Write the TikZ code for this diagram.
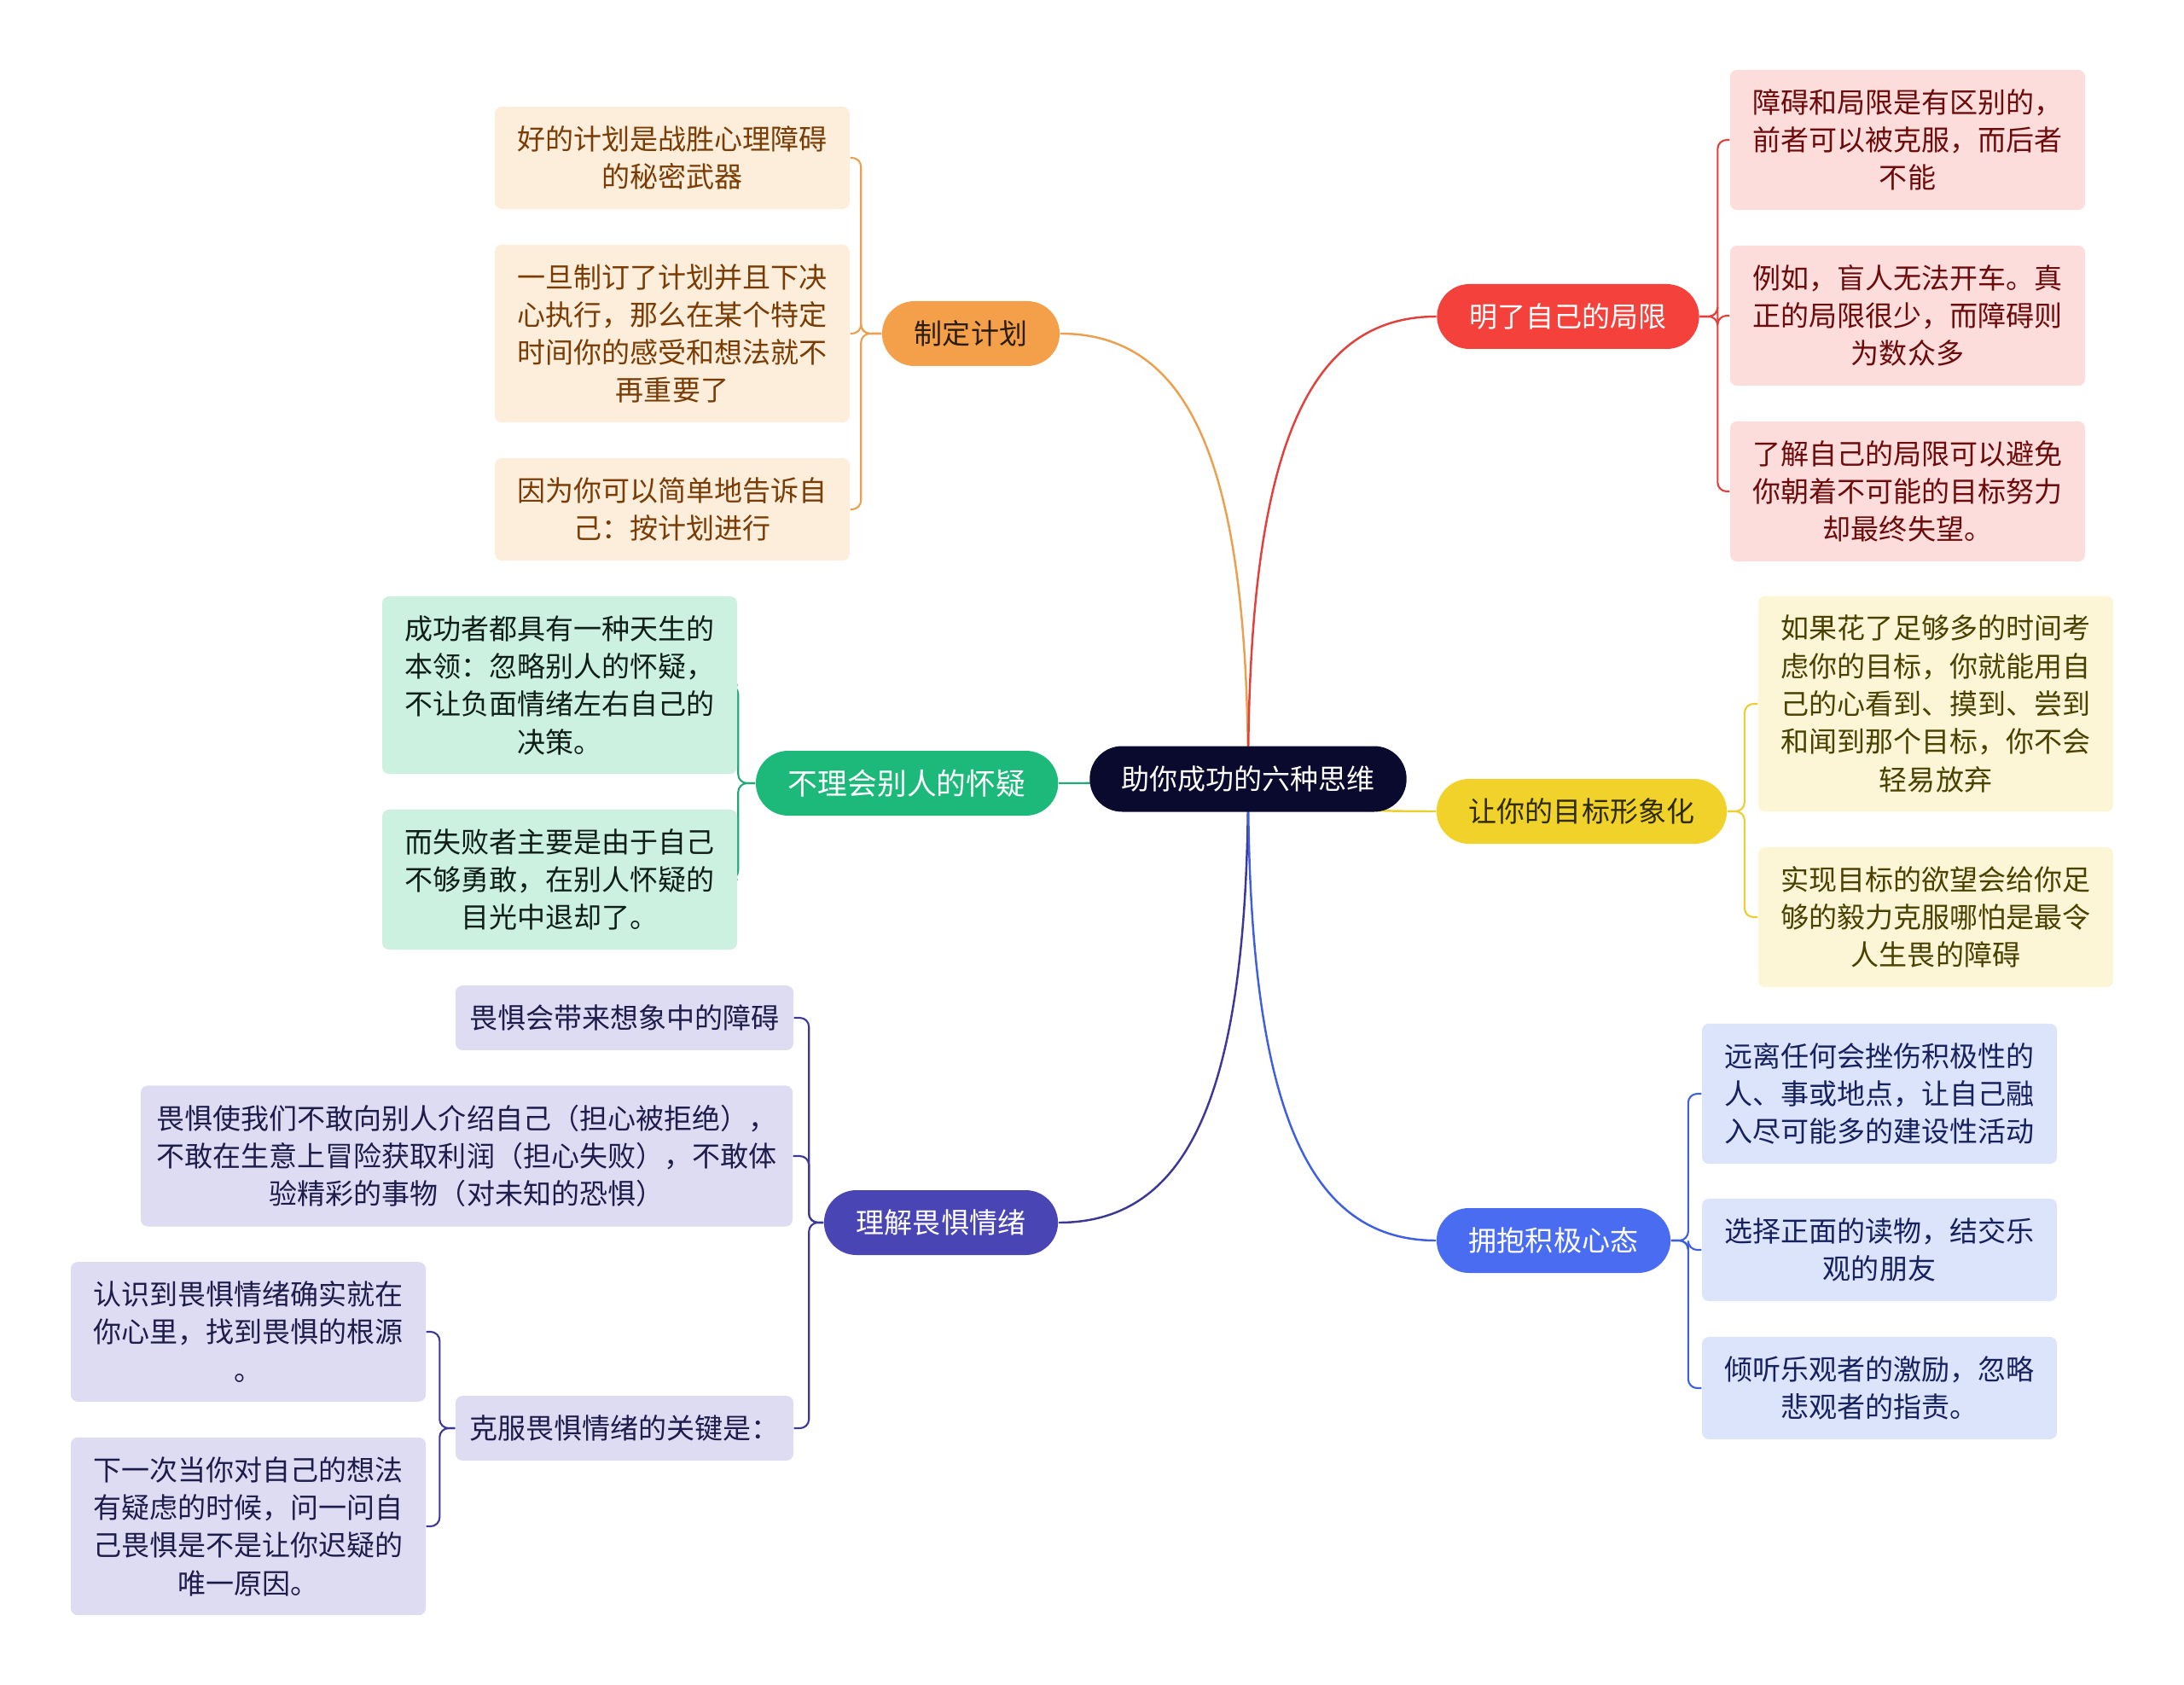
\documentclass[tikz,border=0pt]{standalone}
\usepackage{fontspec}
\setmainfont{Noto Sans CJK SC}
\usetikzlibrary{calc,backgrounds}

\definecolor{rootc}{HTML}{0A0A2E}
\definecolor{orgc}{HTML}{F4A04B}
\definecolor{orgline}{HTML}{EBA04F}
\definecolor{orgtext}{HTML}{2B1C0C}
\definecolor{orgleaf}{HTML}{FDEEDC}
\definecolor{orgleaftext}{HTML}{7A3C05}
\definecolor{redc}{HTML}{F5413C}
\definecolor{redline}{HTML}{E2403B}
\definecolor{redleaf}{HTML}{FDDCDC}
\definecolor{redleaftext}{HTML}{6B0B0B}
\definecolor{grnc}{HTML}{1DB97B}
\definecolor{grnline}{HTML}{25A878}
\definecolor{grnleaf}{HTML}{CDF1E1}
\definecolor{grnleaftext}{HTML}{0F1F18}
\definecolor{ylwc}{HTML}{F0D22A}
\definecolor{ylwline}{HTML}{ECCF2E}
\definecolor{ylwtext}{HTML}{2F2A00}
\definecolor{ylwleaf}{HTML}{FCF6D6}
\definecolor{ylwleaftext}{HTML}{4A4000}
\definecolor{purc}{HTML}{4A45B5}
\definecolor{purline}{HTML}{3C3896}
\definecolor{purleaf}{HTML}{DDDCF3}
\definecolor{purleaftext}{HTML}{1E1C4A}
\definecolor{bluc}{HTML}{4A6CF0}
\definecolor{bluline}{HTML}{3E5FE0}
\definecolor{bluleaf}{HTML}{DCE4FC}
\definecolor{bluleaftext}{HTML}{16215E}

\tikzset{
  every node/.style={font=\fontsize{9.4}{12.6}\selectfont},
  rootnode/.style={fill=rootc, text=white, rounded corners=0.38cm, minimum height=0.77cm, inner xsep=0.37cm, inner ysep=0pt},
  topic/.style={rounded corners=0.38cm, minimum height=0.76cm, inner xsep=0.38cm, inner ysep=0pt},
  leaf/.style={rounded corners=0.08cm, align=center, text width=3.66cm, inner xsep=0.25cm, inner ysep=0.225cm},
  rootlink/.style={line width=0.7pt, to path={.. controls ($(\tikztostart)!0.7!(\tikztostart |- \tikztotarget)$) and ($(\tikztotarget)!0.7!(\tikztostart |- \tikztotarget)$) .. (\tikztotarget)}},
  leaflink/.style={line width=0.6pt, rounded corners=3pt},
}

\begin{document}
\begin{tikzpicture}
    \useasboundingbox (0,0) rectangle (25.6,-19.75);

    % Centre
    \node[rootnode] (root) at (14.63,-9.13) {助你成功的六种思维};

    % Topics
    \node[topic, fill=orgc, text=orgtext] (plan) at (11.38,-3.91) {制定计划};
    \node[topic, fill=redc, text=white] (limit) at (18.38,-3.71) {明了自己的局限};
    \node[topic, fill=grnc, text=white, font=\fontsize{9.9}{13}\selectfont, anchor=east] (doubt) at (12.41,-9.18) {不理会别人的怀疑};
    \node[topic, fill=ylwc, text=ylwtext] (vision) at (18.54,-9.51) {让你的目标形象化};
    \node[topic, fill=purc, text=white] (fear) at (11.03,-14.33) {理解畏惧情绪};
    \node[topic, fill=bluc, text=white] (posi) at (18.21,-14.54) {拥抱积极心态};

    % Plan leaves
    \node[leaf, fill=orgleaf, text=orgleaftext] (plan1) at (7.88,-1.85) {好的计划是战胜心理障碍\\的秘密武器};
    \node[leaf, fill=orgleaf, text=orgleaftext] (plan2) at (7.88,-3.91) {一旦制订了计划并且下决\\心执行，那么在某个特定\\时间你的感受和想法就不\\再重要了};
    \node[leaf, fill=orgleaf, text=orgleaftext] (plan3) at (7.88,-5.97) {因为你可以简单地告诉自\\己：按计划进行};

    % Limit leaves
    \node[leaf, fill=redleaf, text=redleaftext] (limit1) at (22.36,-1.64) {障碍和局限是有区别的，\\前者可以被克服，而后者\\不能};
    \node[leaf, fill=redleaf, text=redleaftext] (limit2) at (22.36,-3.70) {例如，盲人无法开车。真\\正的局限很少，而障碍则\\为数众多};
    \node[leaf, fill=redleaf, text=redleaftext] (limit3) at (22.36,-5.76) {了解自己的局限可以避免\\你朝着不可能的目标努力\\却最终失望。};

    % Doubt leaves
    \node[leaf, fill=grnleaf, text=grnleaftext] (doubt1) at (6.56,-8.03) {成功者都具有一种天生的\\本领：忽略别人的怀疑，\\不让负面情绪左右自己的\\决策。};
    \node[leaf, fill=grnleaf, text=grnleaftext] (doubt2) at (6.56,-10.31) {而失败者主要是由于自己\\不够勇敢，在别人怀疑的\\目光中退却了。};

    % Vision leaves
    \node[leaf, fill=ylwleaf, text=ylwleaftext] (vision1) at (22.69,-8.25) {如果花了足够多的时间考\\虑你的目标，你就能用自\\己的心看到、摸到、尝到\\和闻到那个目标，你不会\\轻易放弃};
    \node[leaf, fill=ylwleaf, text=ylwleaftext] (vision2) at (22.69,-10.75) {实现目标的欲望会给你足\\够的毅力克服哪怕是最令\\人生畏的障碍};

    % Fear leaves
    \node[leaf, fill=purleaf, text=purleaftext, inner xsep=0.15cm] (fear1) at (7.32,-11.93) {畏惧会带来想象中的障碍};
    \node[leaf, fill=purleaf, text=purleaftext, text width=7.3cm, inner xsep=0.17cm] (fear2) at (5.47,-13.55) {畏惧使我们不敢向别人介绍自己（担心被拒绝），\\不敢在生意上冒险获取利润（担心失败），不敢体\\验精彩的事物（对未知的恐惧）};
    \node[leaf, fill=purleaf, text=purleaftext, inner xsep=0.15cm] (fear3) at (7.32,-16.74) {克服畏惧情绪的关键是：};
    \node[leaf, fill=purleaf, text=purleaftext] (fear3a) at (2.91,-15.61) {认识到畏惧情绪确实就在\\你心里，找到畏惧的根源\\。};
    \node[leaf, fill=purleaf, text=purleaftext] (fear3b) at (2.91,-17.89) {下一次当你对自己的想法\\有疑虑的时候，问一问自\\己畏惧是不是让你迟疑的\\唯一原因。};

    % Positive leaves
    \node[leaf, fill=bluleaf, text=bluleaftext] (posi1) at (22.03,-12.82) {远离任何会挫伤积极性的\\人、事或地点，让自己融\\入尽可能多的建设性活动};
    \node[leaf, fill=bluleaf, text=bluleaftext] (posi2) at (22.03,-14.65) {选择正面的读物，结交乐\\观的朋友};
    \node[leaf, fill=bluleaf, text=bluleaftext] (posi3) at (22.03,-16.27) {倾听乐观者的激励，忽略\\悲观者的指责。};

    \begin{scope}[on background layer]
        % Centre to topics
        \draw[orgline, rootlink] (root.center) to (plan.east);
        \draw[redline, rootlink] (root.center) to (limit.west);
        \draw[grnline, rootlink] (root.center) to (doubt.east);
        \draw[ylwline, rootlink] (root.center) to (vision.west);
        \draw[purline, rootlink] (root.center) to (fear.east);
        \draw[bluline, rootlink] (root.center) to (posi.west);

        % Topics to leaves
        \foreach \n in {plan1,plan2,plan3}
            \draw[orgline, leaflink] (plan.west) -- ++(-0.24,0) |- (\n.east);
        \foreach \n in {limit1,limit2,limit3}
            \draw[redline, leaflink] (limit.east) -- ++(0.21,0) |- (\n.west);
        \foreach \n in {doubt1,doubt2}
            \draw[grnline, leaflink] (doubt.west) -- ++(-0.2,0) |- (\n.east);
        \foreach \n in {vision1,vision2}
            \draw[ylwline, leaflink] (vision.east) -- ++(0.2,0) |- (\n.west);
        \foreach \n in {fear1,fear2,fear3}
            \draw[purline, leaflink] (fear.west) -- ++(-0.17,0) |- (\n.east);
        \foreach \n in {fear3a,fear3b}
            \draw[purline, leaflink] (fear3.west) -- ++(-0.18,0) |- (\n.east);
        \foreach \n in {posi1,posi2,posi3}
            \draw[bluline, leaflink] (posi.east) -- ++(0.2,0) |- (\n.west);
    \end{scope}
\end{tikzpicture}
\end{document}
